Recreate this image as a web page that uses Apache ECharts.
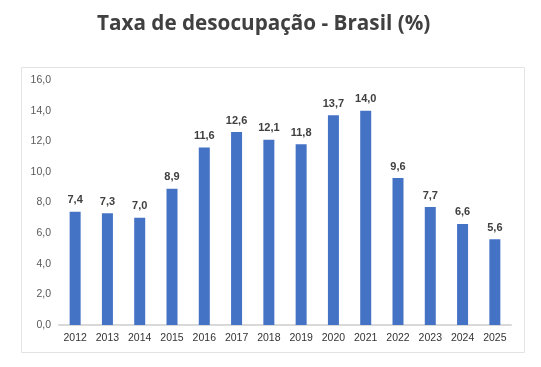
<!DOCTYPE html>
<html>
<head>
<meta charset="utf-8">
<script src="https://cdn.jsdelivr.net/npm/echarts@6/dist/echarts.min.js"></script>
<style>
html,body{margin:0;padding:0;background:#fff;}
#c{width:541px;height:367px;}
</style>
</head>
<body>
<div id="c"></div>
<script>
const categories = ['2012','2013','2014','2015','2016','2017','2018','2019','2020','2021','2022','2023','2024','2025'];
const values = [7.4, 7.3, 7.0, 8.9, 11.6, 12.6, 12.1, 11.8, 13.7, 14.0, 9.6, 7.7, 6.6, 5.6];
const yTicks = [0, 2, 4, 6, 8, 10, 12, 14, 16];

const fmt = v => v.toFixed(1).replace('.', ',');
const chart = echarts.init(document.getElementById('c'));
chart.setOption({
  animation: false,
  title: {
    text: 'Taxa de desocupação - Brasil (%)',
    left: 92,
    top: 9,
    textStyle: {fontFamily: 'Open Sans', fontWeight: 'bold', fontSize: 20.7, color: '#404040'}
  },
  graphic: [{
    type: 'rect',
    shape: {x: 21.5, y: 67.5, width: 503, height: 285},
    style: {fill: 'none', stroke: '#e3e3e3', lineWidth: 1},
    silent: true
  }],
  grid: {left: 59, right: 30, top: 80, bottom: 42},
  xAxis: {
    type: 'category',
    data: categories,
    axisLine: {lineStyle: {color: '#d9d9d9', width: 2}},
    axisTick: {show: false},
    axisLabel: {color: '#333', fontFamily: 'Liberation Sans', fontSize: 10.5, margin: 8}
  },
  yAxis: {
    type: 'value',
    min: yTicks[0],
    max: yTicks[yTicks.length - 1],
    interval: 2,
    splitLine: {show: false},
    axisLine: {show: false},
    axisTick: {show: false},
    axisLabel: {color: '#595959', fontFamily: 'Liberation Sans', fontSize: 10.5, margin: 8, formatter: v => fmt(v)}
  },
  series: [{
    type: 'bar',
    data: values,
    barWidth: 11,
    itemStyle: {color: '#4472C4'},
    label: {
      show: true,
      position: 'top',
      distance: 6,
      color: '#404040',
      fontFamily: 'Liberation Sans',
      fontWeight: 'bold',
      fontSize: 11,
      formatter: p => fmt(p.value)
    }
  }]
});
</script>
</body>
</html>
